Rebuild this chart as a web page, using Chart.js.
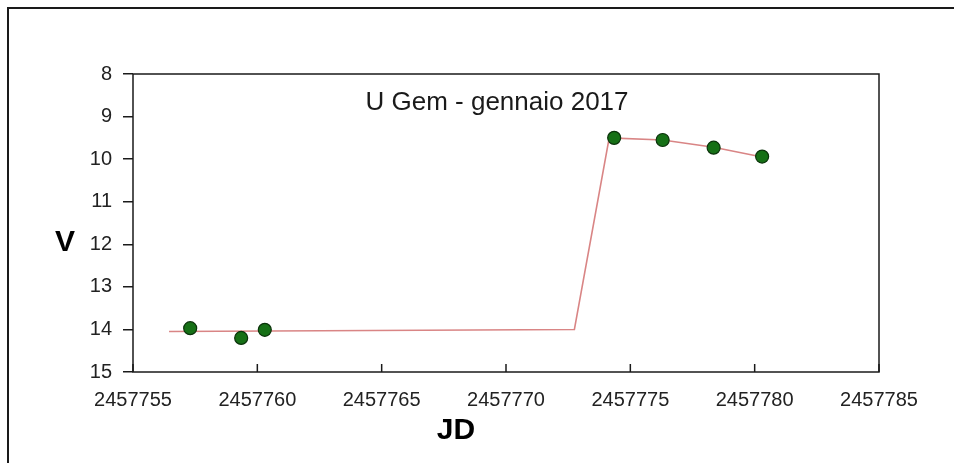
<!DOCTYPE html>
<html lang="it">
    <head>
        <meta charset="UTF-8">
        <title>U Gem - gennaio 2017</title>
        <style>
            body {
                margin: 0;
                background: #ffffff;
            }
            .box {
                position: relative;
                width: 954px;
                height: 463px;
                overflow: hidden;
            }
            .frame {
                position: absolute;
                left: 7px;
                top: 7px;
                width: 1000px;
                height: 500px;
                border-top: 2px solid #1a1a1a;
                border-left: 2px solid #1a1a1a;
            }
            canvas {
                position: absolute;
                left: 0;
                top: 0;
            }
        </style>
    </head>
    <body>
        <div class="box">
            <div class="frame"></div>
            <canvas id="ugemChart" width="954" height="463"></canvas>
        </div>

        <script src="https://cdn.jsdelivr.net/npm/chart.js"></script>
        <script>
            // osservazioni (punti verdi)
            const jdObs = [2457757.3, 2457759.35, 2457760.3, 2457774.35, 2457776.3, 2457778.35, 2457780.3];
            const magObs = [13.97, 14.2, 14.01, 9.5, 9.55, 9.73, 9.94];

            // linea di tendenza (rossa)
            const jdLine = [2457756.45, 2457772.75, 2457774.15, 2457776.3, 2457778.35, 2457780.3];
            const magLine = [14.05, 14.0, 9.5, 9.55, 9.72, 9.95];

            const chartTitle = 'U Gem - gennaio 2017';
            const xTitle = 'JD';
            const yTitle = 'V';

            const obsData = jdObs.map((x, i) => ({ x: x, y: magObs[i] }));
            const lineData = jdLine.map((x, i) => ({ x: x, y: magLine[i] }));

            const frameAndText = {
                id: 'frameAndText',
                beforeDatasetsDraw(chart) {
                    const ctx = chart.ctx;
                    const a = chart.chartArea;
                    const xs = chart.scales.x;
                    ctx.save();
                    ctx.strokeStyle = '#1a1a1a';
                    ctx.lineWidth = 1.5;
                    ctx.strokeRect(a.left, a.top, a.right - a.left, a.bottom - a.top);
                    // tacche verso l'interno sull'asse x
                    xs.ticks.forEach(t => {
                        const px = xs.getPixelForValue(t.value);
                        ctx.beginPath();
                        ctx.moveTo(px, a.bottom);
                        ctx.lineTo(px, a.bottom - 8);
                        ctx.stroke();
                    });
                    ctx.restore();
                },
                afterDraw(chart) {
                    const ctx = chart.ctx;
                    ctx.save();
                    ctx.fillStyle = '#1a1a1a';
                    ctx.textAlign = 'center';
                    ctx.textBaseline = 'middle';
                    ctx.font = '26px "Liberation Sans", Arial, sans-serif';
                    ctx.fillText(chartTitle, 497, 103);
                    ctx.fillStyle = '#000000';
                    ctx.font = 'bold 30px "Liberation Sans", Arial, sans-serif';
                    ctx.fillText(yTitle, 65, 243);
                    ctx.fillText(xTitle, 456, 431);
                    ctx.restore();
                }
            };

            const ctx = document.getElementById('ugemChart').getContext('2d');
            const ugemChart = new Chart(ctx, {
                type: 'scatter',
                data: {
                    datasets: [
                        {
                            label: 'V',
                            data: obsData,
                            order: 0,
                            showLine: false,
                            pointRadius: 6.5,
                            pointBackgroundColor: '#167016',
                            pointBorderColor: '#0b330b',
                            pointBorderWidth: 1.2
                        },
                        {
                            label: 'trend',
                            data: lineData,
                            order: 1,
                            showLine: true,
                            borderColor: '#d98585',
                            borderWidth: 1.6,
                            pointRadius: 0,
                            tension: 0
                        }
                    ]
                },
                options: {
                    responsive: false,
                    animation: false,
                    layout: {
                        padding: { left: 0, top: 74, right: 75, bottom: 0 }
                    },
                    plugins: {
                        legend: { display: false },
                        tooltip: { enabled: false }
                    },
                    scales: {
                        x: {
                            type: 'linear',
                            min: 2457755,
                            max: 2457785,
                            afterFit: s => { s.height = 91; },
                            border: { display: false },
                            grid: { display: false, drawTicks: false },
                            ticks: {
                                stepSize: 5,
                                padding: 16,
                                color: '#222222',
                                font: { family: '"Liberation Sans", Arial, sans-serif', size: 20 },
                                maxRotation: 0,
                                callback: v => String(v)
                            }
                        },
                        y: {
                            min: 8,
                            max: 15,
                            reverse: true,
                            afterFit: s => { s.width = 133; },
                            border: { display: false },
                            grid: {
                                drawOnChartArea: false,
                                drawTicks: true,
                                tickLength: 10,
                                color: '#1a1a1a',
                                lineWidth: 1.5
                            },
                            ticks: {
                                stepSize: 1,
                                padding: 11,
                                color: '#222222',
                                font: { family: '"Liberation Sans", Arial, sans-serif', size: 20 }
                            }
                        }
                    }
                },
                plugins: [frameAndText]
            });
        </script>
    </body>
</html>
